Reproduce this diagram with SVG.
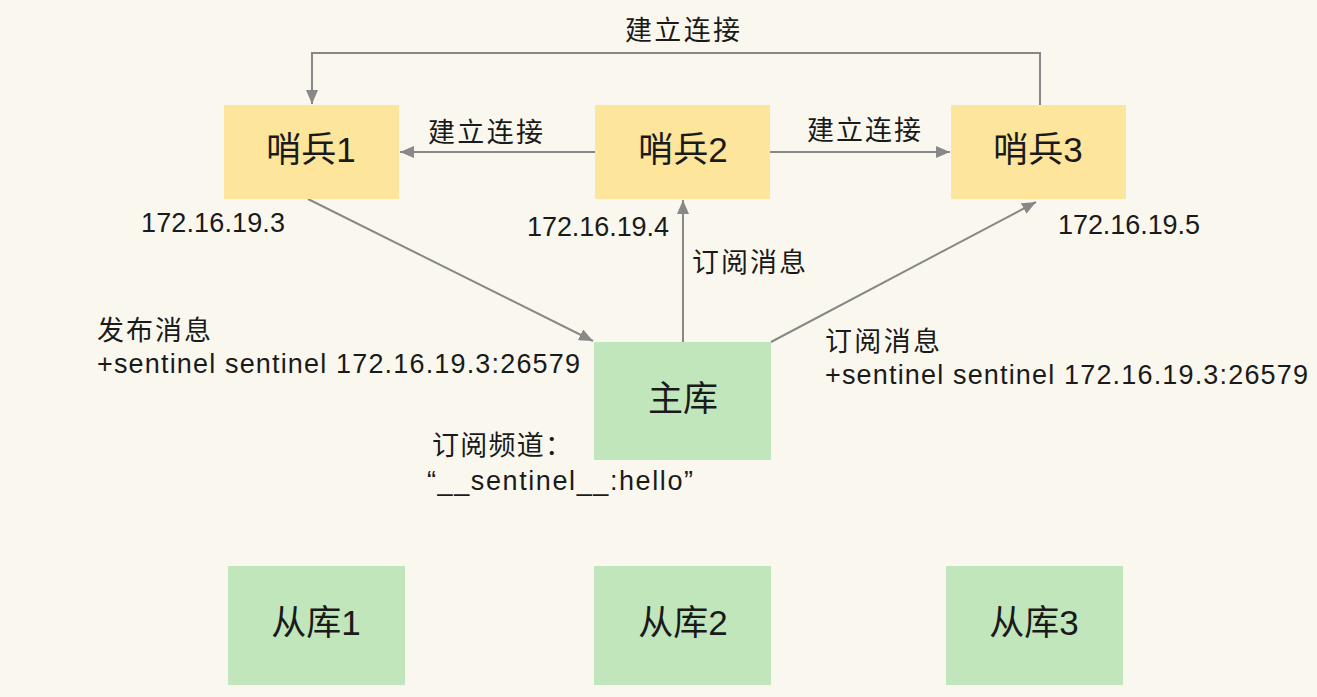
<svg xmlns="http://www.w3.org/2000/svg" width="1317" height="697" viewBox="0 0 1317 697">
  <defs>
    <marker id="arrow" markerUnits="userSpaceOnUse" markerWidth="14" markerHeight="12" refX="14" refY="6" orient="auto">
      <path d="M0,0 L14,6 L0,12 z" fill="#888888"/>
    </marker>
    <style>
      text { font-family: "Liberation Sans", "Noto Sans CJK SC", sans-serif; fill: #1a1a1a; }
      .sentinel { fill: #fde59b; }
      .db { fill: #c1e6bc; }
      .node-label { font-size: 35px; text-anchor: middle; }
      .label { font-size: 27px; }
      .edge { fill: none; stroke: #888888; stroke-width: 2; marker-end: url(#arrow); }
    </style>
  </defs>

  <rect width="1317" height="697" fill="#faf8ee"/>

  <!-- connectors -->
  <g id="connectors">
    <path class="edge" d="M1040,105 V53 H312 V104"/>
    <path class="edge" d="M595,152 H400"/>
    <path class="edge" d="M770,152 H950"/>
    <path class="edge" d="M308,199 L593,341"/>
    <path class="edge" d="M683,342 V200"/>
    <path class="edge" d="M771,342 L1036,202"/>
  </g>

  <!-- sentinels -->
  <g id="sentinel1">
    <rect class="sentinel" x="224" y="105" width="175" height="94"/>
    <text class="node-label" x="311" y="162">哨兵1</text>
  </g>
  <g id="sentinel2">
    <rect class="sentinel" x="595" y="105" width="175" height="94"/>
    <text class="node-label" x="683" y="162">哨兵2</text>
  </g>
  <g id="sentinel3">
    <rect class="sentinel" x="951" y="105" width="175" height="94"/>
    <text class="node-label" x="1038" y="162">哨兵3</text>
  </g>

  <!-- master -->
  <g id="master">
    <rect class="db" x="594" y="342" width="177" height="118"/>
    <text class="node-label" x="683" y="411">主库</text>
  </g>

  <!-- replicas -->
  <g id="replica1">
    <rect class="db" x="228" y="566" width="177" height="119"/>
    <text class="node-label" x="316" y="635">从库1</text>
  </g>
  <g id="replica2">
    <rect class="db" x="594" y="566" width="177" height="119"/>
    <text class="node-label" x="683" y="635">从库2</text>
  </g>
  <g id="replica3">
    <rect class="db" x="946" y="566" width="177" height="119"/>
    <text class="node-label" x="1034" y="635">从库3</text>
  </g>

  <!-- labels -->
  <g id="labels">
    <text class="label" x="625" y="40" textLength="115">建立连接</text>
    <text class="label" x="428" y="142" textLength="115">建立连接</text>
    <text class="label" x="807" y="140" textLength="114">建立连接</text>

    <text class="label" x="141" y="232" textLength="144">172.16.19.3</text>
    <text class="label" x="527" y="236" textLength="142">172.16.19.4</text>
    <text class="label" x="1058" y="234" textLength="142">172.16.19.5</text>

    <text class="label" x="692" y="272" textLength="114">订阅消息</text>

    <text class="label" x="97" y="340" textLength="114">发布消息</text>
    <text class="label" x="97" y="373" textLength="483">+sentinel sentinel 172.16.19.3:26579</text>

    <text class="label" x="825" y="351" textLength="115">订阅消息</text>
    <text class="label" x="825" y="384" textLength="483">+sentinel sentinel 172.16.19.3:26579</text>

    <text class="label" x="432" y="455" textLength="140">订阅频道：</text>
    <text class="label" x="427" y="490" textLength="266">“__sentinel__:hello”</text>
  </g>
</svg>
